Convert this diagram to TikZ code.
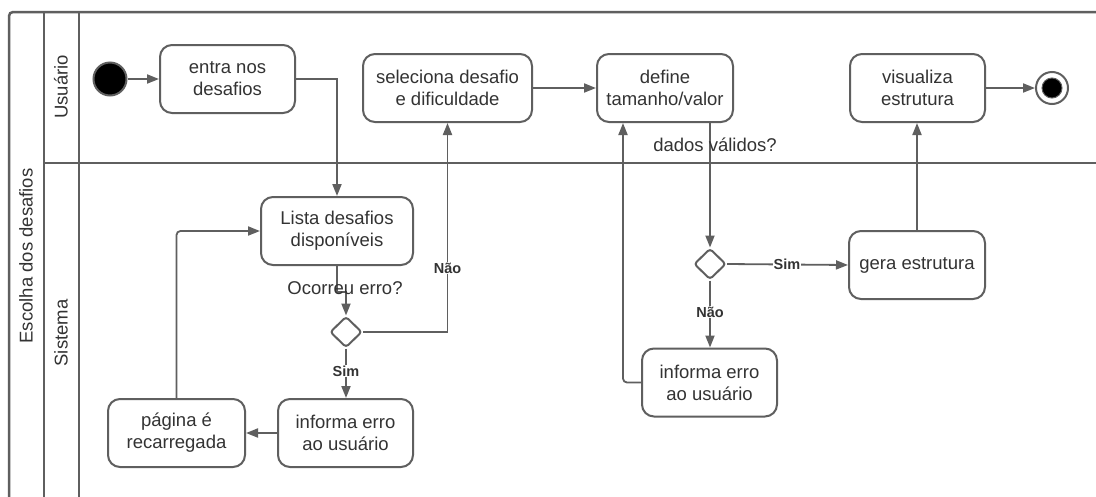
\documentclass[tikz,border=0pt]{standalone}
\usepackage{fontspec}
\setmainfont{Liberation Sans}
\usetikzlibrary{arrows.meta,shapes.geometric}
\definecolor{lc}{RGB}{95,95,95}
\definecolor{tc}{RGB}{51,51,51}
\tikzset{
  act/.style={draw=lc, line width=2pt, rounded corners=12pt, align=center,
    text=tc, inner sep=0pt, minimum height=68pt,
    font=\fontsize{18.5}{22}\selectfont},
  dec/.style={diamond, draw=lc, line width=2pt, rounded corners=3pt,
    minimum width=32pt, minimum height=31pt, inner sep=0pt, fill=white},
  arr/.style={draw=lc, line width=1.8pt, -{Triangle[length=12pt,width=9pt]}},
  link/.style={draw=lc, line width=1.8pt},
  guard/.style={text=tc, font=\fontsize{18.5}{22}\selectfont},
  choice/.style={text=tc, fill=white, inner sep=1pt,
    font=\fontsize{14.5}{16}\selectfont\bfseries},
  lane/.style={text=tc, rotate=90, font=\fontsize{18.5}{22}\selectfont},
  frame/.style={draw=lc, line width=2.5pt},
}
\begin{document}
\begin{tikzpicture}[x=1pt,y=-1pt]
\useasboundingbox (0,0) rectangle (1096,496);
\fill[white] (0,0) rectangle (1096,496);

% pool and swim lanes
\begin{scope}
\clip (0,0) rectangle (1096,496);
\draw[frame, rounded corners=4pt] (9,530) -- (9,12) -- (1130,12);
\draw[frame] (44,12) -- (44,530);
\draw[frame] (79,12) -- (79,530);
\draw[frame] (44,163) -- (1130,163);
\end{scope}
\node[lane] (pool) at (26,256) {Escolha dos desafios};
\node[lane] (laneU) at (61,87) {Usuário};
\node[lane] (laneS) at (61,333) {Sistema};

% Usuário lane
\node[circle, draw=lc, line width=2pt, fill=black, minimum size=33pt, inner sep=0pt] (start) at (110,79) {};
\node[act, minimum width=135pt] (entra) at (227.5,79) {entra nos\\desafios};
\node[act, minimum width=169pt] (sel) at (447.5,88) {seleciona desafio\\e dificuldade};
\node[act, minimum width=136pt] (def) at (665,88) {define\\tamanho/valor};
\node[act, minimum width=135pt] (vis) at (917.5,88) {visualiza\\estrutura};
\node[circle, draw=lc, line width=2pt, fill=white, minimum size=32pt, inner sep=0pt] (end) at (1052,88) {};
\node[circle, draw=lc, line width=1pt, fill=black, minimum size=20pt, inner sep=0pt] (endDot) at (end) {};

% Sistema lane
\node[act, minimum width=152pt] (lista) at (337,231) {Lista desafios\\disponíveis};
\node[dec] (d1) at (346,332) {};
\node[act, minimum width=135pt] (inf1) at (345.5,433) {informa erro\\ao usuário};
\node[act, minimum width=137pt] (pag) at (176.5,433) {página é\\recarregada};
\node[dec] (d2) at (710,264) {};
\node[act, minimum width=136pt] (gera) at (917,265) {gera estrutura};
\node[act, minimum width=135pt] (inf2) at (709.5,382.5) {informa erro\\ao usuário};

% flows
\draw[arr] (start) -- (entra);
\draw[arr] (entra.east) -| (lista.north);
\coordinate (jog) at (337,292);
\draw[arr] (lista.south) -- (jog) -| (d1.north);
\node[guard] (q1) at (345,288) {Ocorreu erro?};
\draw[arr] (d1.east) -| (sel.south);
\node[choice] (nao1) at (447.5,268) {Não};
\draw[arr] (d1.south) -- (d1.south |- inf1.north);
\node[choice] (sim1) at (346,371) {Sim};
\draw[arr] (inf1.west) -- (pag.east);
\draw[arr, rounded corners=4pt] (pag.north) |- (lista.west);
\draw[arr] (sel.east) -- (def.west);
\draw[arr] (def.south -| d2.north) -- (d2.north);
\node[guard] (q2) at (715,145) {dados válidos?};
\draw[arr] (d2.east) -- (gera.west);
\node[choice] (sim2) at (787,264) {Sim};
\draw[arr] (d2.south) -- (d2.south |- inf2.north);
\node[choice] (nao2) at (710,312) {Não};
\draw[arr, rounded corners=4pt] (inf2.west) -| ([xshift=-42pt]def.south);
\draw[arr] (gera.north) -- (gera.north |- vis.south);
\draw[arr] (vis.east) -- (end.west);
\end{tikzpicture}
\end{document}
